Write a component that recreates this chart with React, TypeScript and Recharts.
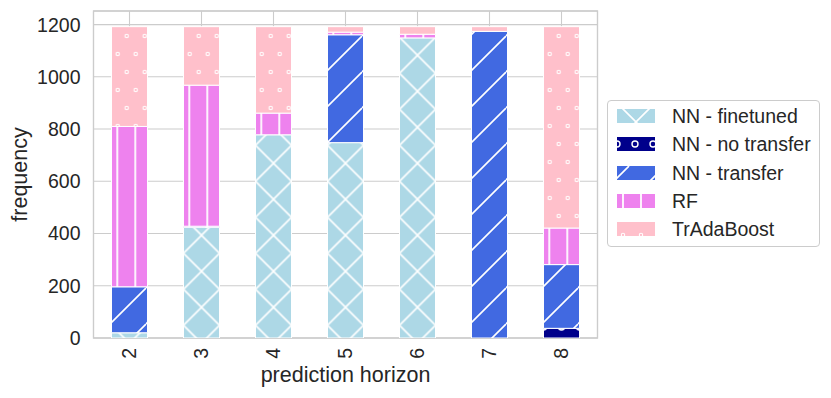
import { BarChart, Bar, XAxis, YAxis, CartesianGrid, ReferenceArea } from "recharts";

// values (each horizon sums to ~1192)
const horizons = ["2", "3", "4", "5", "6", "7", "8"];
const nnFinetuned = [20, 424, 778, 748, 1149, 0, 0];
const nnNoTransfer = [0, 0, 0, 0, 0, 0, 37];
const nnTransfer = [176, 4, 0, 413, 0, 1174, 244];
const rf = [614, 540, 83, 10, 14, 0, 140];
const trAdaBoost = [382, 224, 331, 21, 29, 18, 771];
const yTicks = [0, 200, 400, 600, 800, 1000, 1200];

const series = [
  { key: "ft", name: "NN - finetuned", hatch: "x", values: nnFinetuned },
  { key: "nt", name: "NN - no transfer", hatch: "o", values: nnNoTransfer },
  { key: "tr", name: "NN - transfer", hatch: "s", values: nnTransfer },
  { key: "rf", name: "RF", hatch: "v", values: rf },
  { key: "ta", name: "TrAdaBoost", hatch: "d", values: trAdaBoost },
];

const rows = horizons.map((h, i) => {
  const r: Record<string, string | number> = { horizon: h };
  series.forEach((s) => (r[s.key] = s.values[i]));
  return r;
});

const FONT = "'Liberation Sans', Arial, sans-serif";
const INK = "#262626";
const GRID = "#cccccc";

type Shift = Record<string, [number, number]>;

function hatchPatterns(prefix: string, sh: Shift) {
  const w = "#ffffff";
  return [
    <pattern key="x" id={`${prefix}-x`} patternUnits="userSpaceOnUse" width={36} height={36} x={sh.x[0]} y={sh.x[1]}>
      <rect width={36} height={36} fill="#add8e6" />
      <path d="M-36,0L0,36M0,0L36,36M36,0L72,36M0,0L-36,36M36,0L0,36M72,0L36,36" stroke={w} strokeWidth={1.6} />
    </pattern>,
    <pattern key="o" id={`${prefix}-o`} patternUnits="userSpaceOnUse" width={18} height={36} x={sh.o[0]} y={sh.o[1]}>
      <rect width={18} height={36} fill="#00008b" />
      {[[0, 0], [18, 0], [9, 18], [0, 36], [18, 36]].map(([cx, cy], i) => (
        <circle key={i} cx={cx} cy={cy} r={3} fill="none" stroke={w} strokeWidth={1.4} />
      ))}
    </pattern>,
    <pattern key="s" id={`${prefix}-s`} patternUnits="userSpaceOnUse" width={36} height={36} x={sh.s[0]} y={sh.s[1]}>
      <rect width={36} height={36} fill="#4169e1" />
      <path d="M0,0L-36,36M36,0L0,36M72,0L36,36" stroke={w} strokeWidth={1.6} />
    </pattern>,
    <pattern key="v" id={`${prefix}-v`} patternUnits="userSpaceOnUse" width={18} height={18} x={sh.v[0]} y={sh.v[1]}>
      <rect width={18} height={18} fill="#ee82ee" />
      <path d="M0,-1V19M18,-1V19" stroke={w} strokeWidth={1.8} />
    </pattern>,
    <pattern key="d" id={`${prefix}-d`} patternUnits="userSpaceOnUse" width={18} height={36} x={sh.d[0]} y={sh.d[1]}>
      <rect width={18} height={36} fill="#ffc0cb" />
      {[[0, 0], [18, 0], [9, 18], [0, 36], [18, 36]].map(([cx, cy], i) => (
        <circle key={i} cx={cx} cy={cy} r={1.7} fill="none" stroke={w} strokeWidth={1.1} />
      ))}
    </pattern>,
  ];
}

const barShift: Shift = { x: [21.5, 19.3], o: [3.5, 3], s: [2, 0], v: [9.3, 0], d: [0.7, 0] };
const legendShift: Shift = { x: [19, 13], o: [0, 7], s: [12, 0], v: [6, 0], d: [6, 13] };

const XTick = (props: any) => {
  const { x, y, payload } = props;
  return (
    <text
      x={x}
      y={y}
      dy="0.35em"
      transform={`rotate(-90 ${x} ${y})`}
      textAnchor="end"
      fill={INK}
      fontSize={19.5}
      fontFamily={FONT}
    >
      {payload.value}
    </text>
  );
};

const XTitle = (props: any) => {
  const vb = props.viewBox || { x: 93.5, y: 338, width: 504, height: 60 };
  return (
    <text x={vb.x + vb.width / 2} y={vb.y + 44} textAnchor="middle" fill={INK} fontSize={21.5} fontFamily={FONT}>
      prediction horizon
    </text>
  );
};

const YTitle = (props: any) => {
  const vb = props.viewBox || { x: 33.5, y: 11, width: 60, height: 327 };
  const cx = 27.2;
  const cy = vb.y + vb.height / 2;
  return (
    <text x={cx} y={cy} transform={`rotate(-90 ${cx} ${cy})`} textAnchor="middle" fill={INK} fontSize={21.5} fontFamily={FONT}>
      frequency
    </text>
  );
};

function LegendBox() {
  return (
    <div
      style={{
        position: "absolute",
        left: 607,
        top: 100,
        width: 211,
        height: 145,
        border: `1px solid ${GRID}`,
        borderRadius: 4,
        background: "#fff",
        fontFamily: FONT,
        fontSize: 19.5,
        color: INK,
      }}
    >
      {series.map((s, i) => (
        <div key={s.key} style={{ position: "absolute", left: 9, top: 15 + i * 28.3 - 7, height: 14, display: "flex", alignItems: "center" }}>
          <svg width={38} height={14} style={{ display: "block" }}>
            <defs>{hatchPatterns(`lg${i}`, legendShift)}</defs>
            <rect width={38} height={14} fill={`url(#lg${i}-${s.hatch})`} />
          </svg>
          <span style={{ marginLeft: 17, whiteSpace: "nowrap", lineHeight: "14px" }}>{s.name}</span>
        </div>
      ))}
    </div>
  );
}

export default function App() {
  return (
    <div style={{ position: "absolute", left: 0, top: 0, width: 831, height: 398, background: "#fff" }}>
      <BarChart
        width={831}
        height={398}
        data={rows}
        margin={{ top: 11, right: 233.5, bottom: 0, left: 33.5 }}
        barSize={36}
        style={{ fontFamily: FONT }}
      >
        <defs>{hatchPatterns("bar", barShift)}</defs>
        <CartesianGrid stroke={GRID} strokeWidth={1.1} />
        <XAxis
          dataKey="horizon"
          height={60}
          interval={0}
          tickLine={false}
          axisLine={false}
          tickSize={0}
          tickMargin={10}
          tick={<XTick />}
          label={<XTitle />}
        />
        <YAxis
          width={60}
          domain={[0, 1252]}
          ticks={yTicks}
          allowDataOverflow
          tickLine={false}
          axisLine={false}
          tickSize={0}
          tickMargin={13}
          tick={{ fill: INK, fontSize: 19.5, fontFamily: FONT }}
          label={<YTitle />}
        />
        {series.map((s) => (
          <Bar
            key={s.key}
            dataKey={s.key}
            name={s.name}
            stackId="h"
            fill={`url(#bar-${s.hatch})`}
            stroke="#ffffff"
            strokeWidth={1}
            isAnimationActive={false}
          />
        ))}
        <ReferenceArea y1={0} y2={1252} fill="none" stroke={GRID} strokeWidth={1.3} ifOverflow="visible" />
      </BarChart>
      <LegendBox />
    </div>
  );
}
